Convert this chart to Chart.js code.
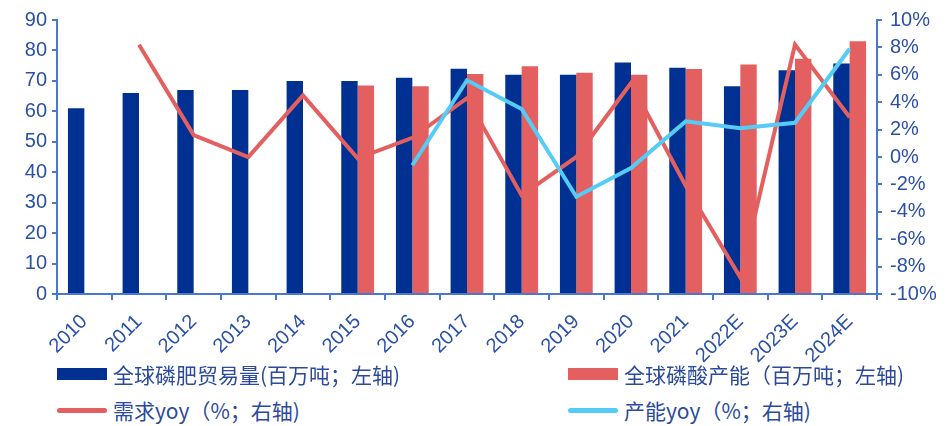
<!DOCTYPE html>
<html>
<head>
<meta charset="utf-8">
<script src="https://cdn.jsdelivr.net/npm/chart.js@4"></script>
<style>
  html, body { margin: 0; padding: 0; background: #fff; }
  #wrap { position: relative; width: 950px; height: 426px; }
  #c { position: absolute; left: 0; top: 0; }
  .lg { position: absolute; display: flex; align-items: center; line-height: 24px;
        font-family: "Noto Sans CJK SC", sans-serif; font-size: 21px; color: #2b4a9c; }
  .sw { display: inline-block; width: 50px; margin-right: 6px; }
</style>
</head>
<body>
<div id="wrap">
  <canvas id="c" width="950" height="372"></canvas>
  <div class="lg" style="left:57px; top:362px;"><span class="sw" style="height:12px;background:#003192"></span>全球磷肥贸易量(百万吨；左轴)</div>
  <div class="lg" style="left:568px; top:362px;"><span class="sw" style="height:12px;background:#e46060"></span>全球磷酸产能（百万吨；左轴)</div>
  <div class="lg" style="left:57px; top:398px;"><span class="sw" style="height:5px;border-radius:3px;background:#e46060"></span>需求yoy（%；右轴)</div>
  <div class="lg" style="left:568px; top:398px;"><span class="sw" style="height:5px;border-radius:3px;background:#55ccf5"></span>产能yoy（%；右轴)</div>
</div>
<script>
// ===== DADOS =====
const anos = ["2010", "2011", "2012", "2013", "2014", "2015", "2016", "2017",
  "2018", "2019", "2020", "2021", "2022E", "2023E", "2024E"];
const comercio = [61, 66, 67, 67, 70, 70, 71, 74, 72, 72, 76, 74.3, 68.2, 73.5, 75.7];
const capacidade = [null, null, null, null, null, 68.5, 68.2, 72.3, 74.8, 72.7, 72, 73.9, 75.4, 77.3, 83];
const demandaYoy = [null, 8.2, 1.6, 0, 4.5, -0.1, 1.4, 4.3, -2.8, 0, 5.4, -2.1, -8.8, 8.2, 2.9];
const capacidadeYoy = [null, null, null, null, null, null, -0.6, 5.6, 3.5, -2.9, -0.8, 2.6, 2.1, 2.5, 7.9];

const AZUL = "#003192";
const VERMELHO = "#e46060";
const CIANO = "#55ccf5";
const EIXO = "#4a78cc";
const TEXTO = "#2b50a8";
const fonteTick = { family: "Liberation Sans", size: 20 };

const ctx = document.getElementById("c").getContext("2d");

new Chart(ctx, {
  data: {
    labels: anos,
    datasets: [
      { type: "bar", data: comercio, yAxisID: "y", backgroundColor: AZUL,
        categoryPercentage: 0.6, barPercentage: 1.0, order: 2 },
      { type: "bar", data: capacidade, yAxisID: "y", backgroundColor: VERMELHO,
        categoryPercentage: 0.6, barPercentage: 1.0, order: 2 },
      { type: "line", data: demandaYoy, yAxisID: "y1", borderColor: VERMELHO,
        borderWidth: 4, pointRadius: 0, tension: 0, order: 1 },
      { type: "line", data: capacidadeYoy, yAxisID: "y1", borderColor: CIANO,
        borderWidth: 4, pointRadius: 0, tension: 0, order: 0 },
    ]
  },
  options: {
    responsive: false,
    animation: false,
    layout: { padding: { top: 14, left: 0, right: 0, bottom: 0 } },
    plugins: { legend: { display: false }, tooltip: { enabled: false } },
    scales: {
      x: {
        grid: { display: true, drawOnChartArea: false, drawTicks: true, tickLength: 6,
          color: EIXO, lineWidth: 2, offset: true },
        border: { color: EIXO, width: 2 },
        ticks: { color: TEXTO, font: fonteTick, minRotation: 45, maxRotation: 45,
          autoSkip: false, padding: 10 },
        afterFit: s => { s.height = 78; },
      },
      y: {
        position: "left",
        min: 0, max: 90,
        ticks: { stepSize: 10, color: TEXTO, font: fonteTick, padding: 5 },
        grid: { display: true, drawOnChartArea: false, drawTicks: true, tickLength: 5,
          color: EIXO, lineWidth: 2 },
        border: { color: EIXO, width: 2 },
        afterFit: s => { s.width = 57; },
      },
      y1: {
        position: "right",
        min: -10, max: 10,
        ticks: { stepSize: 2, color: TEXTO, font: fonteTick, padding: 8,
          callback: v => v + "%" },
        grid: { display: true, drawOnChartArea: false, drawTicks: true, tickLength: 5,
          color: EIXO, lineWidth: 2 },
        border: { color: EIXO, width: 2 },
        afterFit: s => { s.width = 73; },
      },
    },
  },
});
</script>
</body>
</html>
